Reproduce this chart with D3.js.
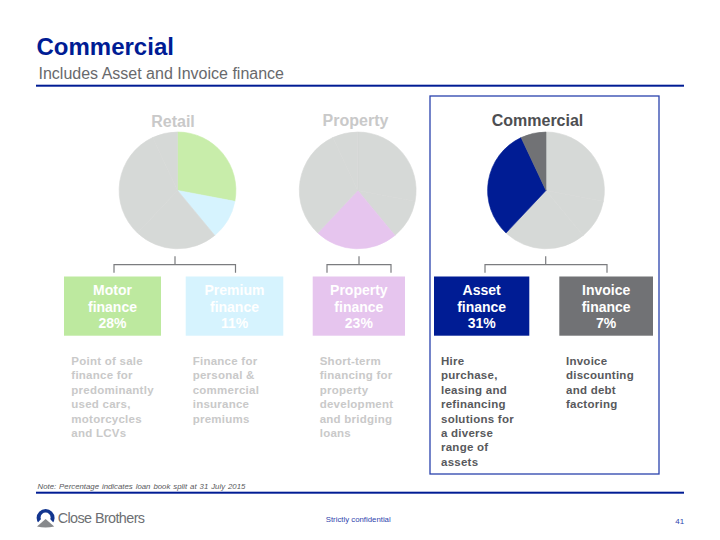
<!DOCTYPE html>
<html><head><meta charset="utf-8">
<script src="https://cdn.jsdelivr.net/npm/d3@7/dist/d3.min.js"></script>
<style>html,body{margin:0;padding:0;background:#fff}svg{display:block}text{font-family:"Liberation Sans",Arial,sans-serif}</style>
</head><body><svg id="c" width="720" height="540"></svg>
<script>
const categories = ["Motor finance","Premium finance","Property finance","Asset finance","Invoice finance"];
const values = [28,11,23,31,7];
const sliceColors = ["#c8edaa","#d6f3fe","#e6c5ee","#001c94","#717275"];
const boxColors = ["#bde99f","#d6f3fe","#e6c5ee","#001c94","#717275"];
const groups = ["Retail","Property","Commercial"];
const groupMembers = [[0,1],[2],[3,4]];
const descriptions = [
 ["Point of sale","finance for","predominantly","used cars,","motorcycles","and LCVs"],
 ["Finance for","personal &","commercial","insurance","premiums"],
 ["Short-term","financing for","property","development","and bridging","loans"],
 ["Hire","purchase,","leasing and","refinancing","solutions for","a diverse","range of","assets"],
 ["Invoice","discounting","and debt","factoring"]
];

// layout
const pieCx=[177.5,357.7,546], pieCy=190.4, pieR=58.4;
const titleX=[173,355.5,537.5], titleY=[127,126,126];
const boxL=[64,185.7,312.7,434,559.3], boxR=[161,283.3,405,529.3,653], boxT=276.5, boxB=335.7;
const descX=[71.3,192.7,319.7,441,566];
const stem=[175,359,545.7], bracketL=[114,327,485], bracketR=[235.5,391,607];

const svg=d3.select("#c");
const NAVY="#001c94", GREY="#c9c9c9", DARK="#58595c";

svg.append("text").attr("x",36.5).attr("y",54.5).attr("fill",NAVY).attr("font-size",24).attr("font-weight",700).text("Commercial");
svg.append("text").attr("x",38.5).attr("y",79).attr("fill","#68696c").attr("font-size",16).text("Includes Asset and Invoice finance");
svg.append("rect").attr("x",36).attr("y",84.7).attr("width",648).attr("height",2).attr("fill",NAVY);

svg.append("rect").attr("x",430).attr("y",96).attr("width",229).attr("height",378).attr("fill","none").attr("stroke","#2a43ad").attr("stroke-width",1.3);

const pie=d3.pie().sort(null).value(d=>d);
const arc=d3.arc().innerRadius(0).outerRadius(pieR);
const arcs=pie(values);
groups.forEach((g,gi)=>{
  const p=svg.append("g").attr("transform",`translate(${pieCx[gi]},${pieCy})`);
  const isOn=i=>groupMembers[gi].includes(i);
  p.selectAll("path").data(arcs).join("path")
    .attr("d",arc)
    .attr("fill",(d,i)=>isOn(i)?sliceColors[i]:"#d6d9d7")
    .attr("stroke",(d,i)=>isOn(i)?sliceColors[i]:"#d6d9d7")
    .attr("stroke-width",0.6);
  svg.append("text").attr("x",titleX[gi]).attr("y",titleY[gi]).attr("text-anchor","middle")
    .attr("fill",gi===2?"#4d4e51":GREY).attr("font-size",16).attr("font-weight",700).text(g);
  const br=d3.path();
  br.moveTo(stem[gi],256.3);br.lineTo(stem[gi],264.7);
  br.moveTo(bracketL[gi],272.8);br.lineTo(bracketL[gi],264.7);br.lineTo(bracketR[gi],264.7);br.lineTo(bracketR[gi],272.8);
  svg.append("path").attr("d",br.toString()).attr("fill","none").attr("stroke","#7b7c7f").attr("stroke-width",1.2);
});

categories.forEach((c,i)=>{
  svg.append("rect").attr("x",boxL[i]).attr("y",boxT).attr("width",boxR[i]-boxL[i]).attr("height",boxB-boxT).attr("fill",boxColors[i]);
  const [a,b]=c.split(" ");
  [a,b,values[i]+"%"].forEach((t,k)=>{
    svg.append("text").attr("x",(boxL[i]+boxR[i])/2).attr("y",295+k*16.7).attr("text-anchor","middle")
      .attr("fill","#fff").attr("font-size",14).attr("font-weight",700).text(t);
  });
  const on=i>=3;
  descriptions[i].forEach((t,k)=>{
    svg.append("text").attr("x",descX[i]).attr("y",365+k*14.4).attr("fill",on?DARK:GREY)
      .attr("font-size",11.5).attr("font-weight",700).attr("letter-spacing",0.25).text(t);
  });
});

svg.append("text").attr("x",37.5).attr("y",488.8).attr("fill","#58595c").attr("font-size",7.8).attr("font-style","italic").attr("word-spacing",0.8).text("Note: Percentage indicates loan book split at 31 July 2015");
svg.append("rect").attr("x",36).attr("y",491.7).attr("width",648).attr("height",2).attr("fill",NAVY);

// logo
const lg=svg.append("g").attr("transform","translate(45.6,518)");
lg.append("circle").attr("r",9).attr("fill","#12358f");
lg.append("circle").attr("r",5).attr("cy",-0.5).attr("fill","#fff");
lg.append("path").attr("d","M-4.5,1 L4.5,1 L10,7 L10,10 L-10,10 L-10,7Z").attr("fill","#fff");
lg.append("path").attr("d","M-8.6,8.4 L0,1 L8.6,8.4 Q0,10.6 -8.6,8.4Z").attr("fill","#87898c");
svg.append("text").attr("x",57.7).attr("y",523.3).attr("fill","#6d6f73").attr("font-size",14.4).attr("letter-spacing",-0.6).text("Close Brothers");

svg.append("text").attr("x",325.7).attr("y",521.7).attr("fill","#2f45ad").attr("font-size",7.8).text("Strictly confidential");
svg.append("text").attr("x",675.3).attr("y",524).attr("fill","#2f45ad").attr("font-size",8).text("41");
</script></body></html>
